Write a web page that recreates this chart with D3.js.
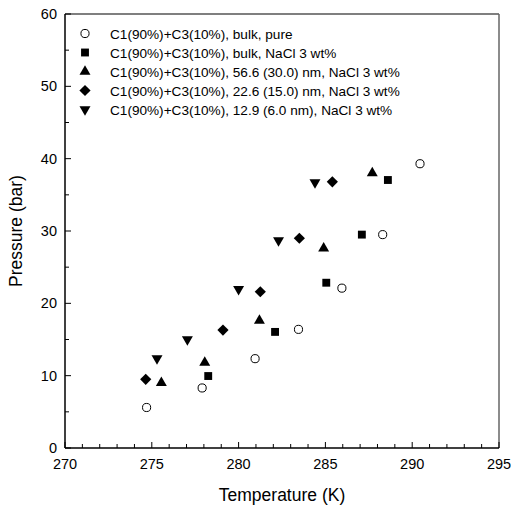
<!DOCTYPE html>
<html>
<head>
<meta charset="utf-8">
<script src="https://cdn.jsdelivr.net/npm/d3@7"></script>
<style>
  html, body { margin: 0; padding: 0; background: #fff; }
  svg { display: block; font-family: "Liberation Sans", Arial, sans-serif; }
</style>
</head>
<body>
<svg id="chart" width="511" height="509"></svg>
<script>
// ---- data ----
const seriesNames = [
  "C1(90%)+C3(10%), bulk, pure",
  "C1(90%)+C3(10%), bulk, NaCl 3 wt%",
  "C1(90%)+C3(10%), 56.6 (30.0) nm, NaCl 3 wt%",
  "C1(90%)+C3(10%), 22.6 (15.0) nm, NaCl 3 wt%",
  "C1(90%)+C3(10%), 12.9 (6.0 nm), NaCl 3 wt%"
];
const bulkPureT = [274.7, 277.9, 280.95, 283.45, 285.95, 288.3, 290.45];
const bulkPureP = [5.6, 8.3, 12.35, 16.4, 22.1, 29.5, 39.3];
const bulkNaClT = [278.25, 282.1, 285.05, 287.1, 288.6];
const bulkNaClP = [9.95, 16.05, 22.85, 29.5, 37.05];
const pore566T = [275.55, 278.05, 281.2, 284.9, 287.7];
const pore566P = [9.0, 11.8, 17.6, 27.6, 38.0];
const pore226T = [274.65, 279.1, 281.25, 283.5, 285.4];
const pore226P = [9.5, 16.3, 21.6, 29.0, 36.8];
const pore129T = [275.3, 277.05, 280.0, 282.3, 284.4];
const pore129P = [12.4, 15.0, 21.95, 28.7, 36.7];
const xTicks = [270, 275, 280, 285, 290, 295];
const yTicks = [0, 10, 20, 30, 40, 50, 60];
const xTitle = "Temperature (K)";
const yTitle = "Pressure (bar)";

// ---- layout ----
const svg = d3.select("#chart");
const L = 65, R = 499, T = 14, B = 448;
const x = d3.scaleLinear().domain([270, 295]).range([L, R]);
const y = d3.scaleLinear().domain([0, 60]).range([B, T]);

const symbols = [
  { type: d3.symbolCircle, size: 52, fill: "#fff", stroke: "#000" },
  { type: d3.symbolSquare, size: 62, fill: "#000", stroke: "none" },
  { type: d3.symbolTriangle, size: 52, fill: "#000", stroke: "none" },
  { type: "diamond", size: 5.6, fill: "#000", stroke: "none" },
  { type: "tridown", size: 52, fill: "#000", stroke: "none" }
];
function symPath(s) {
  if (s.type === "diamond") {
    const r = s.size;
    return `M0,${-r}L${r},0L0,${r}L${-r},0Z`;
  }
  if (s.type === "tridown") {
    return d3.symbol(d3.symbolTriangle, s.size)();
  }
  return d3.symbol(s.type, s.size)();
}
function symTransform(s, px, py) {
  if (s.type === "tridown") return `translate(${px},${py}) rotate(180)`;
  return `translate(${px},${py})`;
}

const data = [
  bulkPureT.map((t, i) => [t, bulkPureP[i]]),
  bulkNaClT.map((t, i) => [t, bulkNaClP[i]]),
  pore566T.map((t, i) => [t, pore566P[i]]),
  pore226T.map((t, i) => [t, pore226P[i]]),
  pore129T.map((t, i) => [t, pore129P[i]])
];

// frame: top and right
svg.append("line").attr("x1", L).attr("x2", R).attr("y1", T).attr("y2", T)
  .attr("stroke", "#000").attr("stroke-width", 1.2);
svg.append("line").attr("x1", R).attr("x2", R).attr("y1", T).attr("y2", B)
  .attr("stroke", "#666").attr("stroke-width", 1.5);

// x axis
const xAxis = svg.append("g").attr("transform", `translate(0,${B})`);
xAxis.append("line").attr("x1", L).attr("x2", R).attr("stroke", "#000").attr("stroke-width", 1.5);
d3.range(270, 296, 1).forEach(v => {
  const major = v % 5 === 0;
  xAxis.append("line").attr("x1", x(v)).attr("x2", x(v))
    .attr("y1", 0).attr("y2", major ? -6 : -4)
    .attr("stroke", "#000").attr("stroke-width", 1);
});
xAxis.selectAll("text.tl").data(xTicks).join("text")
  .attr("x", d => x(d)).attr("y", 21)
  .attr("text-anchor", "middle").attr("font-size", 14.5).text(d => d);

// y axis
const yAxis = svg.append("g").attr("transform", `translate(${L},0)`);
yAxis.append("line").attr("y1", T).attr("y2", B).attr("stroke", "#000").attr("stroke-width", 1.5);
d3.range(0, 61, 5).forEach(v => {
  const major = v % 10 === 0;
  yAxis.append("line").attr("y1", y(v)).attr("y2", y(v))
    .attr("x1", 0).attr("x2", major ? 6 : 4)
    .attr("stroke", "#000").attr("stroke-width", 1);
});
yAxis.selectAll("text.tl").data(yTicks).join("text")
  .attr("x", -8).attr("y", d => y(d) + 5)
  .attr("text-anchor", "end").attr("font-size", 14.5).text(d => d);

// titles
svg.append("text").attr("x", (L + R) / 2).attr("y", 501)
  .attr("text-anchor", "middle").attr("font-size", 17.5).text(xTitle);
svg.append("text").attr("transform", `translate(22,${(T + B) / 2}) rotate(-90)`)
  .attr("text-anchor", "middle").attr("font-size", 17.5).text(yTitle);

// points
data.forEach((pts, si) => {
  const s = symbols[si];
  svg.append("g").selectAll("path").data(pts).join("path")
    .attr("d", symPath(s))
    .attr("transform", d => symTransform(s, x(d[0]), y(d[1])))
    .attr("fill", s.fill).attr("stroke", s.stroke).attr("stroke-width", 1);
});

// legend
const legend = svg.append("g");
seriesNames.forEach((name, i) => {
  const cy = 33.5 + i * 19;
  const s = symbols[i];
  legend.append("path").attr("d", symPath(s))
    .attr("transform", symTransform(s, 85, cy))
    .attr("fill", s.fill).attr("stroke", s.stroke).attr("stroke-width", 1);
  legend.append("text").attr("x", 110).attr("y", cy + 5)
    .attr("font-size", 13.6).text(name);
});
</script>
</body>
</html>
